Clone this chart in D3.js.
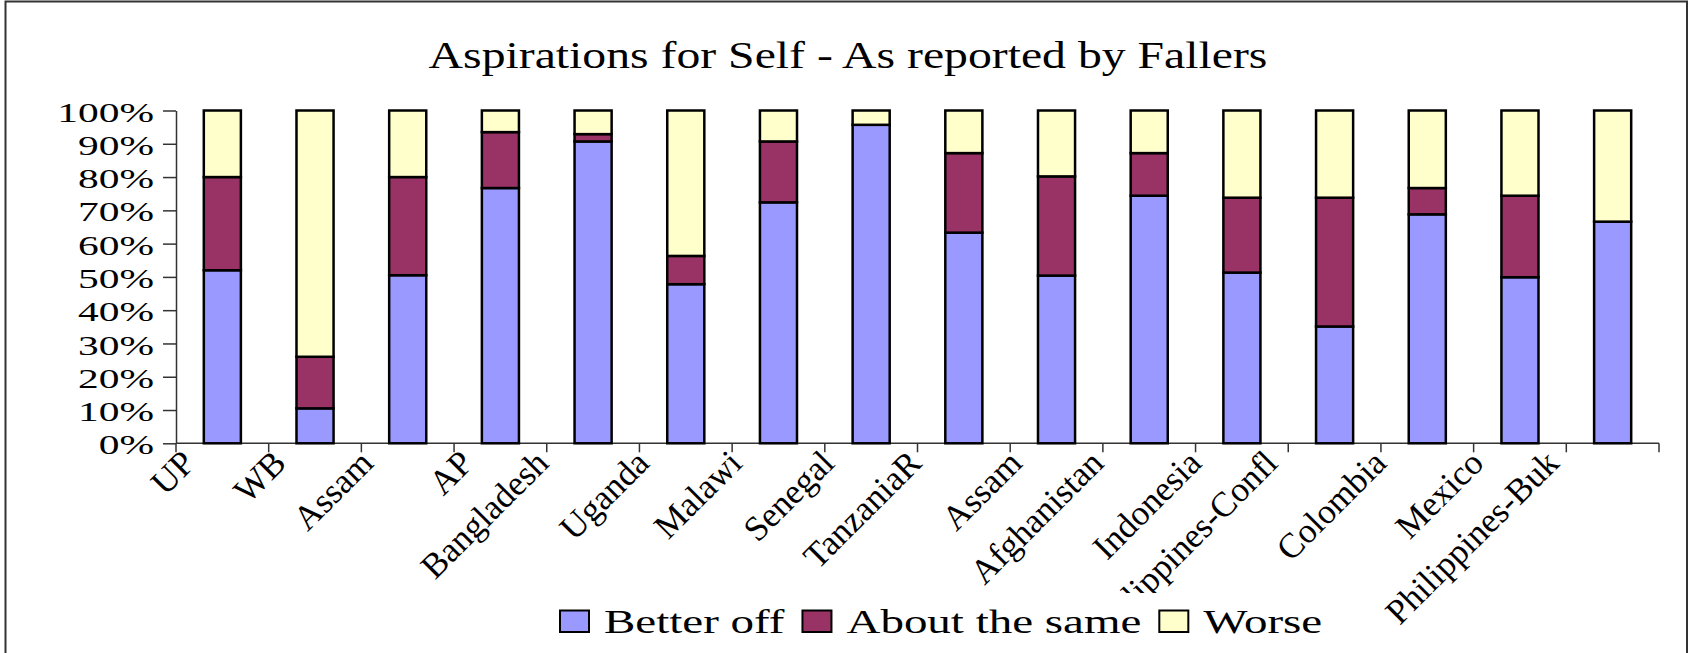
<!DOCTYPE html>
<html>
<head>
<meta charset="utf-8">
<script src="https://cdn.jsdelivr.net/npm/d3@7/dist/d3.min.js"></script>
<style>
  html, body { margin: 0; padding: 0; background: #fff; }
  svg { display: block; }
  text { font-family: "Liberation Serif", "Times New Roman", serif; fill: #000; }
</style>
</head>
<body>
<svg id="chart" width="1694" height="653"></svg>
<script>
// ---- data ----
const categories = ["UP","WB","Assam","AP","Bangladesh","Uganda","Malawi","Senegal","TanzaniaR","Assam","Afghanistan","Indonesia","Philippines-Confl","Colombia","Mexico","Philippines-Buk"];
const betterOff = [52, 10.5, 50.5, 76.7, 90.7, 47.8, 72.4, 95.7, 63.3, 50.4, 74.4, 51.3, 35.1, 68.8, 49.9, 66.6];
const aboutSame = [28, 15.5, 29.5, 16.8, 2.2, 8.5, 18.3, 0, 23.9, 29.8, 12.8, 22.5, 38.7, 7.9, 24.5, 0];
const worse     = [20, 74, 20, 6.5, 7.1, 43.7, 9.3, 4.3, 12.8, 19.8, 12.8, 26.2, 26.2, 23.3, 25.6, 33.4];
const seriesNames = ["Better off", "About the same", "Worse"];
const yTicks = [0,10,20,30,40,50,60,70,80,90,100];
const title = "Aspirations for Self - As reported by Fallers";

// ---- styles ----
const colors = ["#9999FF", "#993366", "#FFFFCC"];
const svg = d3.select("#chart");
const plot = { left: 176, right: 1659, top: 110.5, bottom: 443.3 };

// frame
svg.append("rect").attr("x", 5.5).attr("y", 1.5).attr("width", 1681.5).attr("height", 700)
  .attr("fill", "none").attr("stroke", "#333").attr("stroke-width", 2);

// title
svg.append("text").attr("text-anchor", "middle")
  .attr("transform", "translate(848,68) scale(1.256,1)")
  .attr("font-size", 38).text(title);

// scales
const idx = d3.range(categories.length);
const x = d3.scaleBand().domain(idx).range([plot.left, plot.right]).paddingInner(0.6).paddingOuter(0.3);
const y = d3.scaleLinear().domain([0, 100]).range([plot.bottom, plot.top]);

// stacked data
const table = idx.map(i => ({ i, b: betterOff[i], a: aboutSame[i], w: worse[i] }));
const layers = d3.stack().keys(["b", "a", "w"])(table);

// y axis
const yAxis = d3.axisLeft(y).tickValues(yTicks).tickSize(13).tickSizeOuter(0).tickFormat(d => d + "%");
const gy = svg.append("g").attr("transform", `translate(${plot.left},0)`).call(yAxis);
gy.select(".domain").attr("stroke", "#333").attr("stroke-width", 1.5);
gy.selectAll(".tick line").attr("stroke", "#333").attr("stroke-width", 1.5);
gy.selectAll(".tick text")
  .attr("x", 0).attr("dy", "0.38em")
  .attr("transform", "translate(-22,0) scale(1.48,1)")
  .attr("font-size", 28).attr("font-family", "Liberation Serif, Times New Roman, serif")
  .attr("fill", "#000").attr("text-anchor", "end");

// x axis line and ticks at category boundaries
svg.append("line").attr("x1", plot.left).attr("x2", plot.right)
  .attr("y1", y(0)).attr("y2", y(0)).attr("stroke", "#333").attr("stroke-width", 1.5);
const step = x.step();
svg.append("g").selectAll("line").data(d3.range(categories.length + 1)).join("line")
  .attr("x1", i => plot.left + i * step).attr("x2", i => plot.left + i * step)
  .attr("y1", y(0)).attr("y2", y(0) + 9)
  .attr("stroke", "#333").attr("stroke-width", 1.5);

// bars
svg.append("g").selectAll("g").data(layers).join("g")
  .attr("fill", (d, k) => colors[k])
  .selectAll("rect").data(d => d).join("rect")
  .attr("x", d => x(d.data.i))
  .attr("width", x.bandwidth())
  .attr("y", d => y(d[1]))
  .attr("height", d => y(d[0]) - y(d[1]))
  .attr("stroke", "#000").attr("stroke-width", 2.5);

// x labels (rotated)
const labelFont = 35;
const gl = svg.append("g");
gl.selectAll("text").data(idx).join("text")
  .attr("font-size", labelFont).attr("text-anchor", "end")
  .text(i => categories[i])
  .each(function(i) {
    const L = this.getComputedTextLength();
    const cx = x(i) + x.bandwidth() / 2;
    const ax = cx - 19 - 0.145 * L;
    const ay = 465;
    d3.select(this).attr("transform", `translate(${ax},${ay}) rotate(-45)`);
  });

// legend (white box drawn over labels)
const lg = svg.append("g");
const bgRect = lg.append("rect").attr("fill", "#fff");
let cx = 560;
seriesNames.forEach((name, k) => {
  lg.append("rect").attr("x", cx).attr("y", 610.5).attr("width", 29).attr("height", 21.5)
    .attr("fill", colors[k]).attr("stroke", "#000").attr("stroke-width", 2);
  const tx = cx + 29 + 15;
  const t = lg.append("text").attr("font-size", 34.3)
    .attr("transform", `translate(${tx},633) scale(1.37,1)`).text(name);
  const w = t.node().getComputedTextLength() * 1.37;
  cx = tx + w + 18;
});
bgRect.attr("x", 548).attr("y", 593).attr("width", cx - 548 + 4).attr("height", 58);
</script>
</body>
</html>
